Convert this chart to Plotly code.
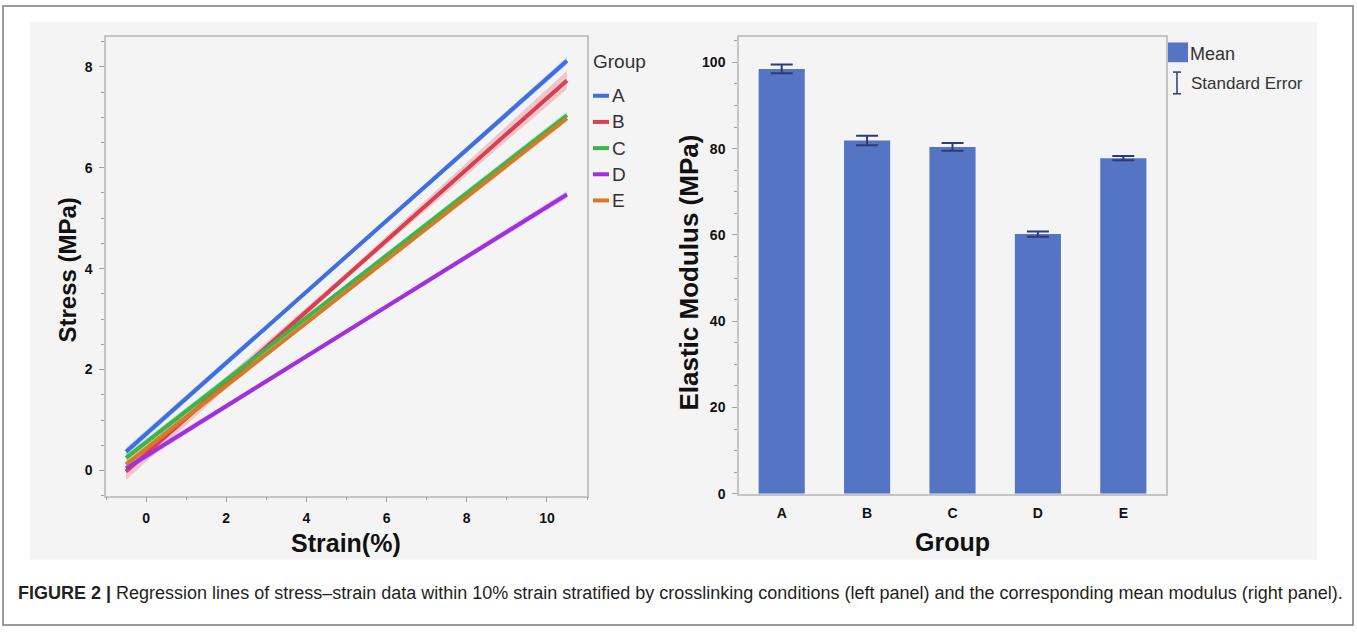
import plotly.graph_objects as go

# ---------------- data ----------------
groups = ["A", "B", "C", "D", "E"]
line_colors = ["#3d6fe0", "#d8404f", "#3db54a", "#a12fe0", "#d67a28"]
band_colors = ["rgba(61,111,224,0.22)", "rgba(216,64,79,0.25)", "rgba(61,181,74,0.22)",
               "rgba(161,47,224,0.22)", "rgba(214,122,40,0.22)"]

strain_pts = [-0.5, 5.0, 10.5]
stress_fit = {
    "A": [0.37, 4.25, 8.12],
    "B": [-0.02, 3.86, 7.73],
    "C": [0.25, 3.65, 7.04],
    "D": [0.04, 2.76, 5.47],
    "E": [0.12, 3.55, 6.98],
}
band_upper = {
    "A": [0.45, 4.29, 8.20],
    "B": [0.14, 3.92, 7.92],
    "C": [0.33, 3.70, 7.12],
    "D": [0.11, 2.80, 5.54],
    "E": [0.19, 3.59, 7.05],
}
band_lower = {
    "A": [0.29, 4.21, 8.04],
    "B": [-0.19, 3.80, 7.56],
    "C": [0.17, 3.60, 6.96],
    "D": [-0.03, 2.72, 5.40],
    "E": [0.05, 3.51, 6.91],
}

modulus_mean = [98.5, 81.9, 80.4, 60.2, 77.8]
modulus_se = [1.0, 1.1, 0.9, 0.6, 0.5]

x_ticks_left = [0, 2, 4, 6, 8, 10]
y_ticks_left = [0, 2, 4, 6, 8]
y_ticks_right = [0, 20, 40, 60, 80, 100]

caption_bold = "FIGURE 2 |"
caption_text = ("Regression lines of stress–strain data within 10% strain stratified by "
                "crosslinking conditions (left panel) and the corresponding mean modulus (right panel).")

# ---------------- layout helpers ----------------
W, H = 1357, 636
def px(x):
    return x / W
def py(y):
    return 1 - y / H

bar_color = "#5574c4"
err_color = "#2b3a7a"
sans = "Liberation Sans, Arial, sans-serif"

fig = go.Figure()

# bands then lines (left panel)
for g, bc in zip(groups, band_colors):
    xs = strain_pts + strain_pts[::-1]
    ys = band_upper[g] + band_lower[g][::-1]
    fig.add_trace(go.Scatter(x=xs, y=ys, fill="toself", fillcolor=bc, mode="none",
                             hoverinfo="skip", showlegend=False, xaxis="x", yaxis="y"))
for g, lc in zip(groups, line_colors):
    fig.add_trace(go.Scatter(x=strain_pts, y=stress_fit[g], mode="lines", name=g,
                             line=dict(color=lc, width=4), showlegend=False,
                             xaxis="x", yaxis="y"))

# bars (right panel)
fig.add_trace(go.Bar(x=groups, y=modulus_mean, marker=dict(color=bar_color, line=dict(width=0)),
                     error_y=dict(type="data", array=modulus_se, color=err_color,
                                  thickness=2, width=11),
                     showlegend=False, xaxis="x2", yaxis="y2"))

axis_common = dict(showline=True, mirror=True, linecolor="#c4c4c4", linewidth=1.5,
                   ticks="outside", tickcolor="#a0a0a0", ticklen=5, tickwidth=1,
                   showgrid=False, zeroline=False,
                   tickfont=dict(family=sans, size=14, color="#111", weight="bold"))

fig.update_layout(
    width=W, height=H,
    margin=dict(l=0, r=0, t=0, b=0),
    paper_bgcolor="white",
    plot_bgcolor="white",
    bargap=0.46,
    xaxis=dict(domain=[px(106), px(587)], range=[-1, 11], tickvals=x_ticks_left,
               minor=dict(dtick=1, ticks="outside", ticklen=3, tickcolor="#a0a0a0"),
               anchor="y", ticklabelstandoff=4, **axis_common),
    yaxis=dict(domain=[py(502), py(37)], range=[-0.5, 8.6], tickvals=y_ticks_left,
               minor=dict(dtick=0.5, tick0=0, ticks="outside", ticklen=3, tickcolor="#a0a0a0"),
               anchor="x", ticklabelstandoff=4, **axis_common),
    xaxis2=dict(domain=[px(739), px(1166)], range=[-0.5, 4.5], anchor="y2",
                **{**axis_common, "ticks": ""}, ticklabelstandoff=6),
    yaxis2=dict(domain=[py(500), py(37)], range=[0, 106], tickvals=y_ticks_right,
                minor=dict(dtick=5, tick0=0, ticks="outside", ticklen=3, tickcolor="#a0a0a0"),
                anchor="x2", ticklabelstandoff=4, **axis_common),
)

shapes = [
    # gray figure panel
    dict(type="rect", xref="paper", yref="paper", x0=px(30), x1=px(1317), y0=py(567), y1=py(22),
         fillcolor="#f4f4f4", line=dict(width=0), layer="below"),
    # outer frame
    dict(type="rect", xref="paper", yref="paper", x0=px(3), x1=px(1353), y0=py(633), y1=py(6),
         fillcolor="rgba(0,0,0,0)", line=dict(color="#7a7a7a", width=1.5), layer="below"),
]
annotations = []

# left legend
annotations.append(dict(text="Group", x=px(591), y=py(62), xref="paper", yref="paper",
                        xanchor="left", yanchor="middle", showarrow=False,
                        font=dict(family=sans, size=19, color="#333")))
leg_y = [97, 123.5, 150, 176.5, 203]
for g, lc, yy in zip(groups, line_colors, leg_y):
    shapes.append(dict(type="line", xref="paper", yref="paper", x0=px(593), x1=px(609),
                       y0=py(yy), y1=py(yy), line=dict(color=lc, width=4)))
    annotations.append(dict(text=g, x=px(610), y=py(yy), xref="paper", yref="paper",
                            xanchor="left", yanchor="middle", showarrow=False,
                            font=dict(family=sans, size=19, color="#333")))

# right legend
shapes.append(dict(type="rect", xref="paper", yref="paper", x0=px(1168), x1=px(1188),
                   y0=py(63), y1=py(43), fillcolor=bar_color, line=dict(width=0)))
annotations.append(dict(text="Mean", x=px(1188), y=py(55), xref="paper", yref="paper",
                        xanchor="left", yanchor="middle", showarrow=False,
                        font=dict(family=sans, size=18, color="#333")))
shapes += [
    dict(type="line", xref="paper", yref="paper", x0=px(1177), x1=px(1177), y0=py(95), y1=py(73),
         line=dict(color=err_color, width=1.5)),
    dict(type="line", xref="paper", yref="paper", x0=px(1173), x1=px(1181), y0=py(73), y1=py(73),
         line=dict(color=err_color, width=1.5)),
    dict(type="line", xref="paper", yref="paper", x0=px(1173), x1=px(1181), y0=py(95), y1=py(95),
         line=dict(color=err_color, width=1.5)),
]
annotations.append(dict(text="Standard Error", x=px(1189), y=py(85), xref="paper", yref="paper",
                        xanchor="left", yanchor="middle", showarrow=False,
                        font=dict(family=sans, size=17, color="#333")))

# axis titles
annotations += [
    dict(text="Strain(%)", x=px(346), y=py(550), xref="paper", yref="paper",
         showarrow=False, xanchor="center", yanchor="middle",
         font=dict(family=sans, size=25, color="#111", weight="bold")),
    dict(text="Stress (MPa)", x=px(68), y=py(274), xref="paper", yref="paper", textangle=-90,
         showarrow=False, xanchor="center", yanchor="middle",
         font=dict(family=sans, size=24, color="#111", weight="bold")),
    dict(text="Group", x=px(952), y=py(549), xref="paper", yref="paper",
         showarrow=False, xanchor="center", yanchor="middle",
         font=dict(family=sans, size=25, color="#111", weight="bold")),
    dict(text="Elastic Modulus (MPa)", x=px(689), y=py(276), xref="paper", yref="paper",
         textangle=-90, showarrow=False, xanchor="center", yanchor="middle",
         font=dict(family=sans, size=26, color="#111", weight="bold")),
]

# caption
annotations.append(dict(text=f"<b>{caption_bold}</b> {caption_text}", x=px(16), y=py(601),
                        xref="paper", yref="paper", xanchor="left", yanchor="middle",
                        showarrow=False, font=dict(family=sans, size=18, color="#231f20")))

fig.update_layout(shapes=shapes, annotations=annotations)
fig.write_html("out.html", config={"displayModeBar": False},
               post_script="document.body.style.margin='0';")
